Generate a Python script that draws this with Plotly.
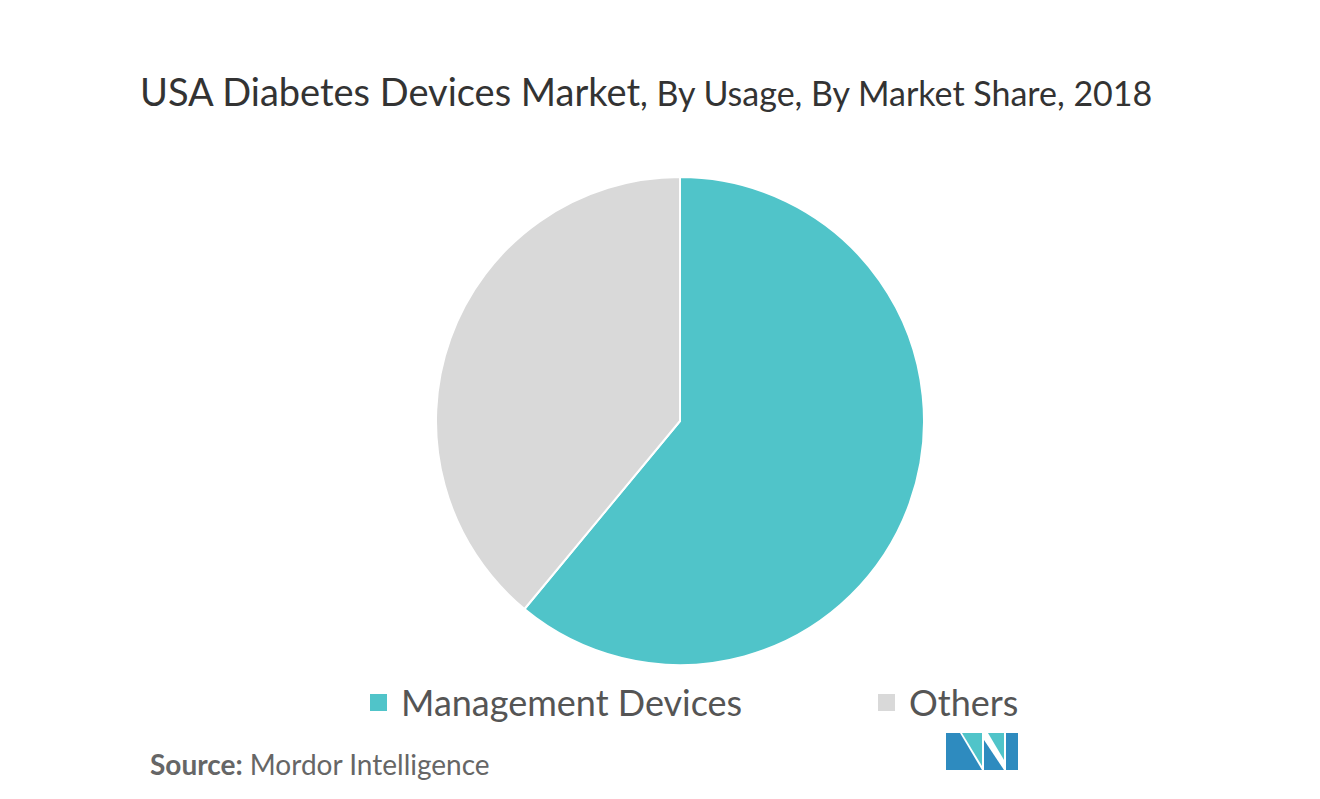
import plotly.graph_objects as go

labels = ["Management Devices", "Others"]
shares = [61, 39]
colors = ["#50c4c9", "#d9d9d9"]

W, H = 1320, 799
DX, DY = 8, 8  # page offset in the browser


def fx(x):
    return (x - DX) / W


def fy(y):
    return 1 - (y - DY) / H


fig = go.Figure(go.Pie(
    labels=labels, values=shares, marker=dict(colors=colors, line=dict(color="white", width=2)),
    sort=False, direction="clockwise", rotation=0, textinfo="none", hoverinfo="label+percent",
    domain=dict(x=[fx(680 - 244), fx(680 + 244)], y=[fy(666), fy(176)]),
    showlegend=False,
))

fig.update_layout(
    width=W, height=H, margin=dict(l=0, r=0, t=0, b=0),
    paper_bgcolor="white", plot_bgcolor="white", showlegend=False,
    font=dict(family="Lato, Open Sans, sans-serif", color="#444"),
    title=dict(text="USA Diabetes Devices Market<span style='font-size:34px'>, By Usage, By Market Share, 2018</span>",
               x=fx(140), xanchor="left", y=fy(93), yanchor="middle",
               font=dict(size=38, color="#333")),
    annotations=[dict(text="<b>Source:</b> Mordor Intelligence", x=fx(148), y=fy(764),
                      xref="paper", yref="paper", xanchor="left", yanchor="middle",
                      showarrow=False, font=dict(size=28, color="#666"))],
)

# legend drawn by hand
legend_x = [370, 878]
for lab, c, lx in zip(labels, colors, legend_x):
    fig.add_shape(type="rect", xref="paper", yref="paper",
                  x0=fx(lx), x1=fx(lx + 17), y0=fy(711), y1=fy(694),
                  fillcolor=c, line=dict(width=0))
    fig.add_annotation(text=lab, x=fx(lx + 29), y=fy(702), xref="paper", yref="paper",
                       xanchor="left", yanchor="middle", showarrow=False,
                       font=dict(size=36, color="#555"))

# logo
logo = [
    ("#2e8bbf", [(946, 770), (946, 733), (960, 733), (982, 770)]),
    ("#50c4c9", [(962, 733), (982, 733), (982, 766)]),
    ("#2e8bbf", [(984, 770), (984, 740), (1004, 770)]),
    ("#50c4c9", [(988, 733), (1004, 733), (1004, 760)]),
    ("#2e8bbf", [(1006, 733), (1018, 733), (1018, 770), (1006, 770)]),
]
for c, pts in logo:
    path = "M " + " L ".join(f"{fx(x)},{fy(y)}" for x, y in pts) + " Z"
    fig.add_shape(type="path", xref="paper", yref="paper", path=path, fillcolor=c, line=dict(width=0))

fig.write_html("out.html")
